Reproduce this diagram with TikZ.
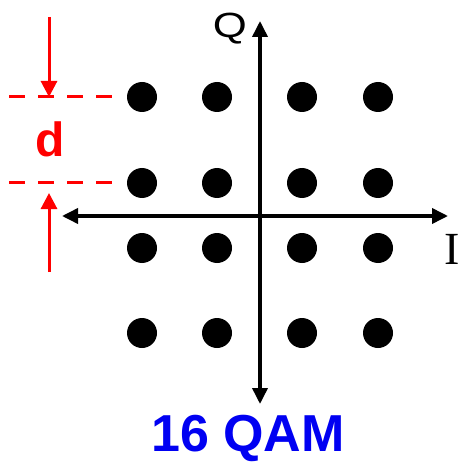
\documentclass[tikz,border=0pt]{standalone}
\usepackage{fontspec}
\setmainfont{Liberation Serif}
\newfontfamily\labelfont{Liberation Sans}
\usetikzlibrary{arrows.meta, positioning}
\definecolor{dcolor}{rgb}{1.0, 0.0, 0.0}
\definecolor{titlecolor}{rgb}{0.0, 0.0, 0.95}
\tikzset{symbol/.style={circle, fill=black, inner sep=0pt, minimum size=30pt}}
\tikzset{axis/.style={line width=3.6pt, {Triangle[length=16pt,width=15pt]}-{Triangle[length=16pt,width=15pt]}}}
\tikzset{guide/.style={draw=dcolor, line width=3pt, dash pattern=on 16pt off 13pt}}
\tikzset{marker/.style={draw=dcolor, line width=3pt, -{Triangle[length=16pt,width=16pt]}}}
\tikzset{axislabel/.style={inner sep=0pt, anchor=base, font=\fontsize{46}{46}\selectfont}}

\begin{document}
\begin{tikzpicture}[x=1pt, y=-1pt]
	\useasboundingbox (0,0) rectangle (460,462);
	
	%%% NODES %%%
	
	% ROW 1
	\node[symbol] at (142,97) (s11) {};
	\node[symbol] at (217,97) (s12) {};
	\node[symbol] at (302,97) (s13) {};
	\node[symbol] at (378,97) (s14) {};
	
	% ROW 2
	\node[symbol] at (142,183) (s21) {};
	\node[symbol] at (217,183) (s22) {};
	\node[symbol] at (302,183) (s23) {};
	\node[symbol] at (378,183) (s24) {};
	
	% ROW 3
	\node[symbol] at (142,248) (s31) {};
	\node[symbol] at (217,248) (s32) {};
	\node[symbol] at (302,248) (s33) {};
	\node[symbol] at (378,248) (s34) {};
	
	% ROW 4
	\node[symbol] at (142,333) (s41) {};
	\node[symbol] at (217,333) (s42) {};
	\node[symbol] at (302,333) (s43) {};
	\node[symbol] at (378,333) (s44) {};
	
	% LABELS
	\node[axislabel, font=\labelfont\fontsize{35}{35}\selectfont] at (230,38) (qlabel) {\scalebox{1.25}[1]{Q}};
	\node[axislabel] at (452,264) (ilabel) {I};
	\node[inner sep=0pt, anchor=base, text=dcolor, font=\labelfont\bfseries\fontsize{48}{48}\selectfont] at (50,157) (dlabel) {d};
	\node[inner sep=0pt, anchor=base, text=titlecolor, font=\labelfont\bfseries\fontsize{52}{52}\selectfont] at (248,451) (title) {16 QAM};
	
	%%% EXTRA ARROW NODES %%%
	\coordinate (iwest) at (62,216);
	\coordinate (ieast) at (448,216);
	\coordinate (qnorth) at (260,21);
	\coordinate (qsouth) at (260,404);
	\coordinate (g1w) at (9,97);
	\coordinate (g1e) at (113,97);
	\coordinate (g2w) at (9,183);
	\coordinate (g2e) at (113,183);
	\coordinate (dtop) at (49,17);
	\coordinate (dupper) at (49,97);
	\coordinate (dlower) at (49,193);
	\coordinate (dbottom) at (49,272);
	
	%%% ARROWS %%%
	
	% AXES
	\draw[axis] (iwest) -- (ieast);
	\draw[axis] (qsouth) -- (qnorth);
	
	% SPACING
	\draw[guide] (g1w) -- (g1e);
	\draw[guide] (g2w) -- (g2e);
	\draw[marker] (dtop) -- (dupper);
	\draw[marker] (dbottom) -- (dlower);
	
\end{tikzpicture}
\end{document}
